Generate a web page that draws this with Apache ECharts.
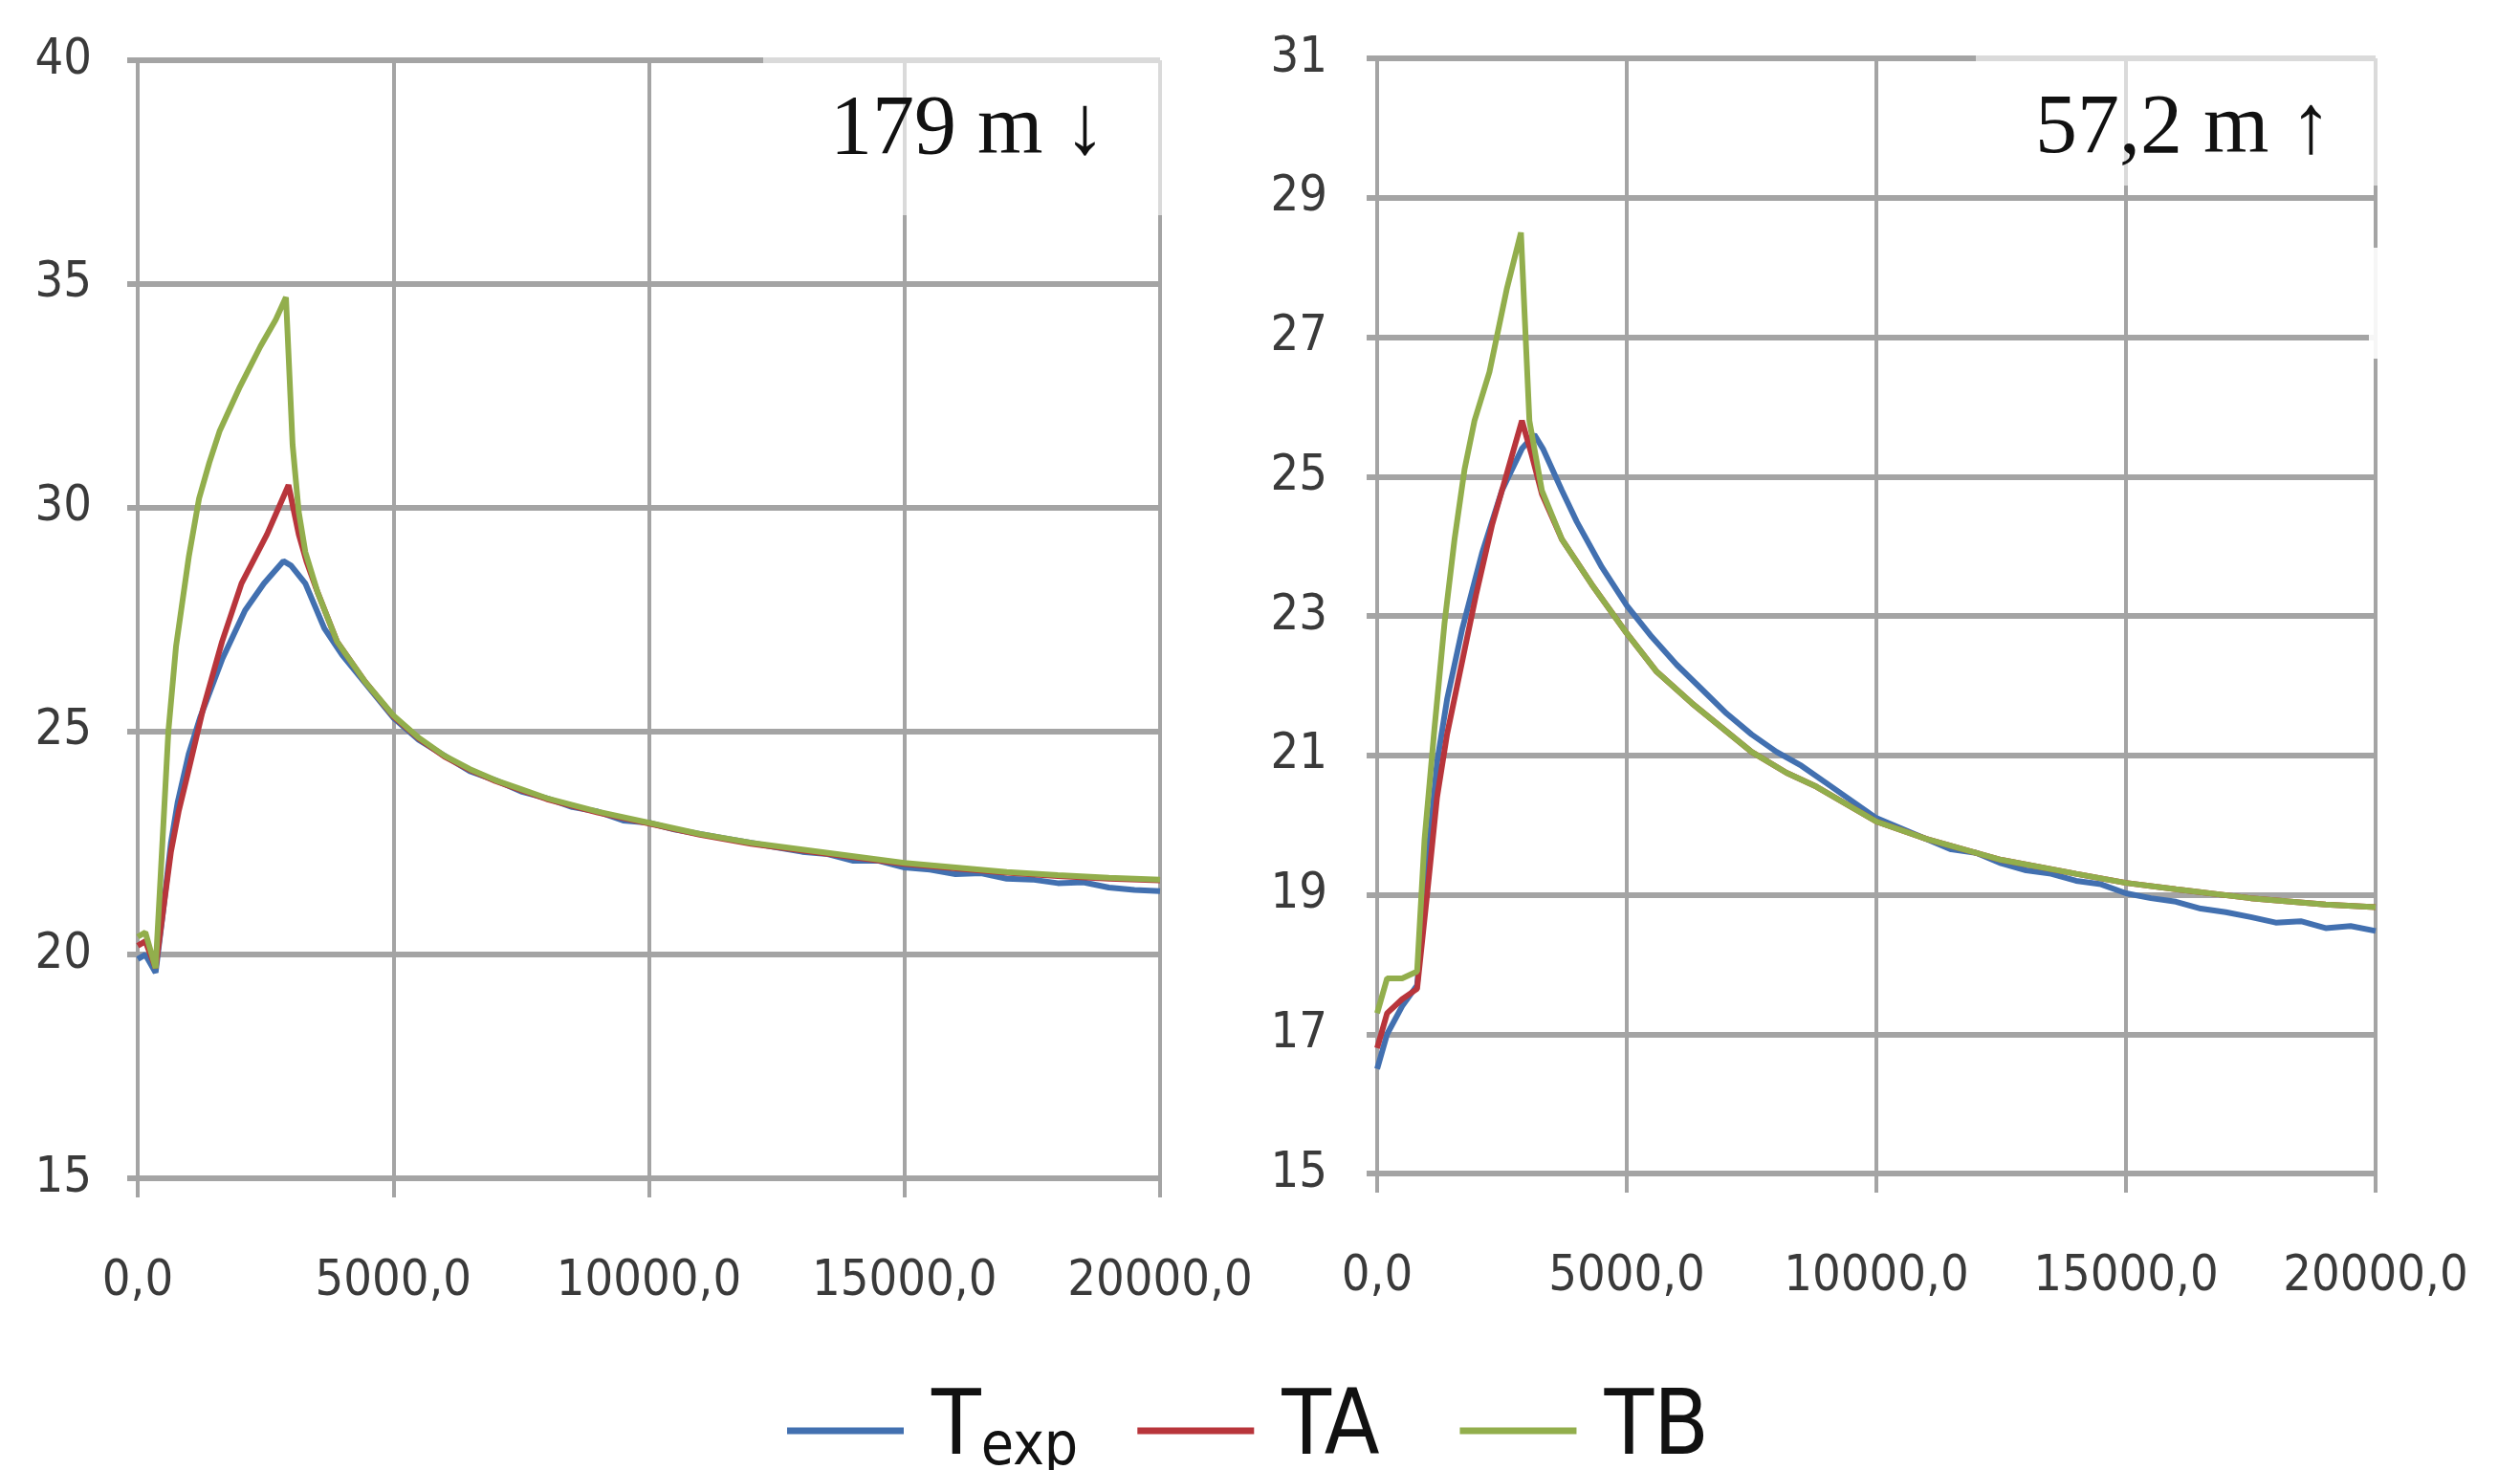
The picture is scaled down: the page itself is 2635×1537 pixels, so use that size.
<!DOCTYPE html>
<html>
<head>
<meta charset="utf-8">
<script src="https://cdn.jsdelivr.net/npm/echarts@6/dist/echarts.min.js"></script>
<style>
html,body{margin:0;padding:0;background:#fff;}
#chart{width:2635px;height:1537px;}
</style>
</head>
<body>
<div id="chart"></div>
<script>
// ---------- DATA ----------
const xTicks = [0, 5000, 10000, 15000, 20000];
const leftYTicks = [15, 20, 25, 30, 35, 40];
const rightYTicks = [15, 17, 19, 21, 23, 25, 27, 29, 31];
const seriesNames = ['Texp', 'TA', 'TB'];
const leftLabel = '179 m \u2193';
const rightLabel = '57,2 m \u2191';

// Left panel (179 m)
const tLeftExp = [0,150,350,500,650,780,1000,1220,1650,2100,2470,2850,3000,3280,3650,4000,4500,5000,5500,6000,6500,7000,7500,8000,8500,9000,9500,10000,10500,11000,11500,12000,12500,13000,13500,14000,14500,15000,15500,16000,16500,17000,17500,18000,18500,19000,19500,20000];
const vLeftExp = [19.9,20.0,19.6,21.0,22.5,23.4,24.5,25.3,26.6,27.7,28.3,28.8,28.7,28.3,27.3,26.7,26.0,25.3,24.8,24.45,24.1,23.9,23.65,23.5,23.3,23.2,23.0,22.95,22.8,22.7,22.6,22.5,22.4,22.3,22.25,22.1,22.1,21.95,21.9,21.8,21.82,21.7,21.68,21.6,21.62,21.5,21.45,21.42];

const tLeftA = [0,150,350,500,650,800,970,1280,1650,2030,2530,2950,3150,3300,3520,3900,4450,5000,5500,6000,6500,7000,7500,8000,9000,10000,11000,12000,13000,14000,15000,16000,17000,18000,19000,20000];
const vLeftA = [20.2,20.3,19.7,21.0,22.3,23.2,24.0,25.5,27.0,28.3,29.4,30.5,29.4,28.8,28.1,27.0,26.1,25.33,24.83,24.43,24.13,23.88,23.68,23.48,23.18,22.93,22.68,22.48,22.33,22.18,22.03,21.93,21.83,21.76,21.7,21.66];

const tLeftB = [0,150,350,450,600,750,850,1000,1200,1400,1600,2000,2400,2700,2900,3030,3150,3280,3520,3900,4450,5000,5500,6000,6500,7000,7500,8000,9000,10000,11000,12000,13000,14000,15000,16000,17000,18000,19000,20000];
const vLeftB = [20.4,20.5,19.7,21.8,25.0,26.9,27.7,28.9,30.2,31.0,31.7,32.7,33.6,34.2,34.7,31.4,29.9,29.0,28.1,27.0,26.1,25.35,24.85,24.45,24.15,23.9,23.7,23.5,23.2,22.95,22.7,22.5,22.35,22.2,22.05,21.95,21.85,21.78,21.72,21.68];

// Right panel (57,2 m)
const tRightExp = [0,200,500,800,1000,1200,1400,1700,2100,2500,2900,3150,3320,3700,4000,4500,5000,5500,6000,6500,7000,7500,8000,8500,9000,9500,10000,10500,11000,11500,12000,12500,13000,13500,14000,14500,15000,15500,16000,16500,17000,17500,18000,18500,19000,19500,20000];
const vRightExp = [16.5,17.0,17.4,17.7,19.4,20.9,21.8,22.8,23.9,24.8,25.4,25.6,25.4,24.8,24.35,23.7,23.15,22.7,22.3,21.95,21.6,21.3,21.05,20.85,20.6,20.35,20.1,19.95,19.8,19.65,19.6,19.45,19.35,19.3,19.2,19.15,19.02,18.95,18.9,18.8,18.75,18.68,18.6,18.62,18.52,18.55,18.48];

const tRightA = [0,200,500,800,1000,1200,1400,1660,1980,2300,2620,2900,3100,3300,3700,4300,5000,5600,6300,6900,7500,8200,8800,10000,11000,12500,14000,15000,16000,17500,19000,20000];
const vRightA = [16.8,17.3,17.5,17.65,19.0,20.4,21.3,22.2,23.3,24.3,25.1,25.8,25.3,24.75,24.1,23.45,22.75,22.2,21.75,21.4,21.05,20.75,20.55,20.05,19.8,19.5,19.3,19.17,19.08,18.95,18.86,18.82];

const tRightB = [0,200,500,800,950,1150,1350,1550,1750,1950,2250,2600,2880,3050,3300,3700,4300,5000,5600,6300,6900,7500,8200,8800,10000,11000,12500,14000,15000,16000,17500,19000,20000];
const vRightB = [17.3,17.8,17.8,17.9,19.8,21.4,22.9,24.1,25.1,25.8,26.5,27.7,28.5,25.8,24.8,24.1,23.45,22.75,22.2,21.75,21.4,21.05,20.75,20.55,20.05,19.8,19.5,19.3,19.17,19.08,18.95,18.86,18.82];

// ---------- STYLE ----------
const colors = {Texp: '#4270b0', TA: '#b8353b', TB: '#92ae4c'};
const gridColor = '#a4a4a4';
const labelFont = "'Liberation Sans Narrow', 'DejaVu Sans Condensed', 'Liberation Sans', sans-serif";
const pair = (xs, ys) => xs.map((x, i) => [x, ys[i]]);

function xAxisCfg(gi) {
  return {
    type: 'value', gridIndex: gi, min: xTicks[0], max: xTicks[xTicks.length - 1],
    interval: xTicks[1] - xTicks[0],
    axisLine: {show: false},
    axisTick: {show: true, length: 20, lineStyle: {color: gridColor, width: 4}},
    splitLine: {show: true, lineStyle: {color: gridColor, width: 4}},
    axisLabel: {margin: 82, fontSize: 52, fontFamily: labelFont, color: '#3a3a3a',
      formatter: v => v.toFixed(1).replace('.', ',')}
  };
}
function yAxisCfg(gi, ticks, margin) {
  return {
    type: 'value', gridIndex: gi, min: ticks[0], max: ticks[ticks.length - 1],
    interval: ticks[1] - ticks[0],
    axisLine: {show: false},
    axisTick: {show: true, length: 11, lineStyle: {color: gridColor, width: 6}},
    splitLine: {show: true, lineStyle: {color: gridColor, width: 6}},
    axisLabel: {margin: margin, fontSize: 52, fontFamily: labelFont, color: '#3a3a3a'}
  };
}
function lineSeries(name, gi, data) {
  return {
    name: name, type: 'line', xAxisIndex: gi, yAxisIndex: gi, data: data,
    showSymbol: false, symbol: 'none', smooth: false, animation: false,
    lineStyle: {color: colors[name], width: 6}, itemStyle: {color: colors[name]}, z: 3
  };
}

const chart = echarts.init(document.getElementById('chart'));
chart.setOption({
  backgroundColor: '#ffffff',
  animation: false,
  grid: [
    {left: 144, top: 63, width: 1069, height: 1169},
    {left: 1440, top: 61, width: 1044, height: 1166}
  ],
  xAxis: [xAxisCfg(0), xAxisCfg(1)],
  yAxis: [yAxisCfg(0, leftYTicks, 48), yAxisCfg(1, rightYTicks, 52)],
  legend: {
    data: seriesNames, left: 818, top: 1444, icon: 'rect',
    itemWidth: 122, itemHeight: 7, itemGap: 62,
    formatter: n => n === 'Texp' ? '{t|T}{s|exp}' : (n === 'TA' ? '{ta|TA}' : '{t|' + n + '}'),
    textStyle: {
      rich: {
        t: {fontSize: 94, fontFamily: labelFont, color: '#111', lineHeight: 100, padding: [0, 0, 0, 24]},
        ta: {fontSize: 94, fontFamily: labelFont, color: '#111', lineHeight: 100, padding: [0, 22, 0, 24]},
        s: {fontSize: 62, fontFamily: labelFont, color: '#111', lineHeight: 50, verticalAlign: 'bottom'}
      }
    }
  },
  graphic: [
    {type: 'rect', z: 1, shape: {x: 798, y: 45, width: 432, height: 180}, style: {fill: 'rgba(255,255,255,0.6)'}},
    {type: 'rect', z: 1, shape: {x: 2066, y: 44, width: 440, height: 150}, style: {fill: 'rgba(255,255,255,0.6)'}},
    {type: 'rect', z: 1, shape: {x: 2477, y: 259, width: 16, height: 116}, style: {fill: 'rgba(255,255,255,0.9)'}},
    {type: 'text', z: 10, x: 868, y: 137, style: {text: leftLabel, font: "88px 'Liberation Serif', 'Times New Roman', serif", fill: '#111', verticalAlign: 'middle', textVerticalAlign: 'middle'}},
    {type: 'text', z: 10, x: 2128, y: 136, style: {text: rightLabel, font: "88px 'Liberation Serif', 'Times New Roman', serif", fill: '#111', verticalAlign: 'middle', textVerticalAlign: 'middle'}}
  ],
  series: [
    lineSeries('Texp', 0, pair(tLeftExp, vLeftExp)),
    lineSeries('TA', 0, pair(tLeftA, vLeftA)),
    lineSeries('TB', 0, pair(tLeftB, vLeftB)),
    lineSeries('Texp', 1, pair(tRightExp, vRightExp)),
    lineSeries('TA', 1, pair(tRightA, vRightA)),
    lineSeries('TB', 1, pair(tRightB, vRightB))
  ]
});
</script>
</body>
</html>
